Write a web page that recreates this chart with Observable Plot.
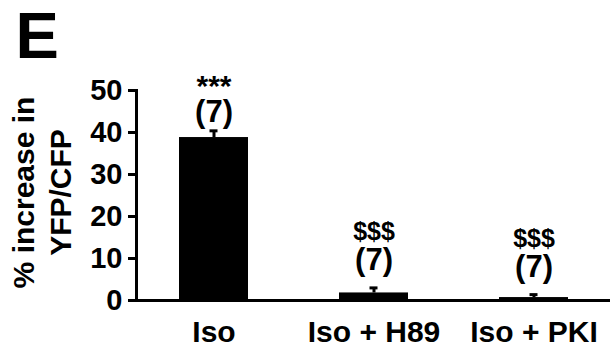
<!DOCTYPE html>
<html>
<head>
<meta charset="utf-8">
<script src="https://cdn.jsdelivr.net/npm/d3@7"></script>
<script src="https://cdn.jsdelivr.net/npm/@observablehq/plot@0.6"></script>
<style>
  html, body { margin: 0; padding: 0; background: #fff; }
</style>
</head>
<body>
<div id="chart"></div>
<script>
const categories = ["Iso", "Iso + H89", "Iso + PKI"];
const means = [38.8, 1.8, 0.7];
const sems = [1.6, 1.2, 0.7];
const nLabels = ["(7)", "(7)", "(7)"];
const sigLabels = ["***", "$$$", "$$$"];
const yTicks = [0, 10, 20, 30, 40, 50];
const yTitle = "% increase in\nYFP/CFP";
const panelLabel = "E";

const data = categories.map((c, i) => ({
  cat: c, mean: means[i], sem: sems[i], top: means[i] + sems[i],
  n: nLabels[i], sig: sigLabels[i]
}));
const starData = data.filter(d => d.sig === "***");
const dollarData = data.filter(d => d.sig === "$$$");

const chart = Plot.plot({
  width: 612,
  height: 350,
  marginLeft: 136,
  marginRight: 2,
  marginTop: 90,
  marginBottom: 50,
  style: { fontFamily: "'Liberation Sans', Arial, sans-serif", fontWeight: "bold", color: "black", background: "white", overflow: "visible" },
  x: { domain: categories, paddingInner: 0.57, paddingOuter: 0.26 },
  y: { domain: [0, 50] },
  marks: [
    Plot.barY(data, { x: "cat", y: "mean", fill: "black" }),
    Plot.ruleX(data, { x: "cat", y1: "mean", y2: "top", stroke: "black", strokeWidth: 3 }),
    Plot.tickY(data, { x: "cat", y: "top", stroke: "black", strokeWidth: 3, insetLeft: 30.5, insetRight: 30.5 }),
    Plot.ruleY([0], { stroke: "black", strokeWidth: 3 }),
    Plot.frame({ anchor: "left", stroke: "black", strokeWidth: 3 }),
    Plot.axisY({ ticks: yTicks, tickSize: 8, tickPadding: 6, strokeWidth: 3, fontSize: 29, label: null }),
    Plot.axisX({ tickSize: 0, tickPadding: 20, fontSize: 30, label: null }),
    Plot.text(starData, { x: "cat", y: "top", text: "n", dy: -19, fontSize: 31 }),
    Plot.text(starData, { x: "cat", y: "top", text: "sig", dy: -44, fontSize: 30 }),
    Plot.text(dollarData, { x: "cat", y: "top", text: "n", dy: -27.5, fontSize: 31 }),
    Plot.text(dollarData, { x: "cat", y: "top", text: "sig", dy: -56, fontSize: 25 }),
    Plot.text([yTitle], { frameAnchor: "left", rotate: -90, dx: -96, dy: -3, fontSize: 30, lineHeight: 1.24, textAnchor: "middle", lineAnchor: "middle" }),
    Plot.text([panelLabel], { frameAnchor: "top-left", dx: -121, dy: -79, fontSize: 65, textAnchor: "start", lineAnchor: "top" })
  ]
});
document.getElementById("chart").appendChild(chart);
</script>
</body>
</html>
